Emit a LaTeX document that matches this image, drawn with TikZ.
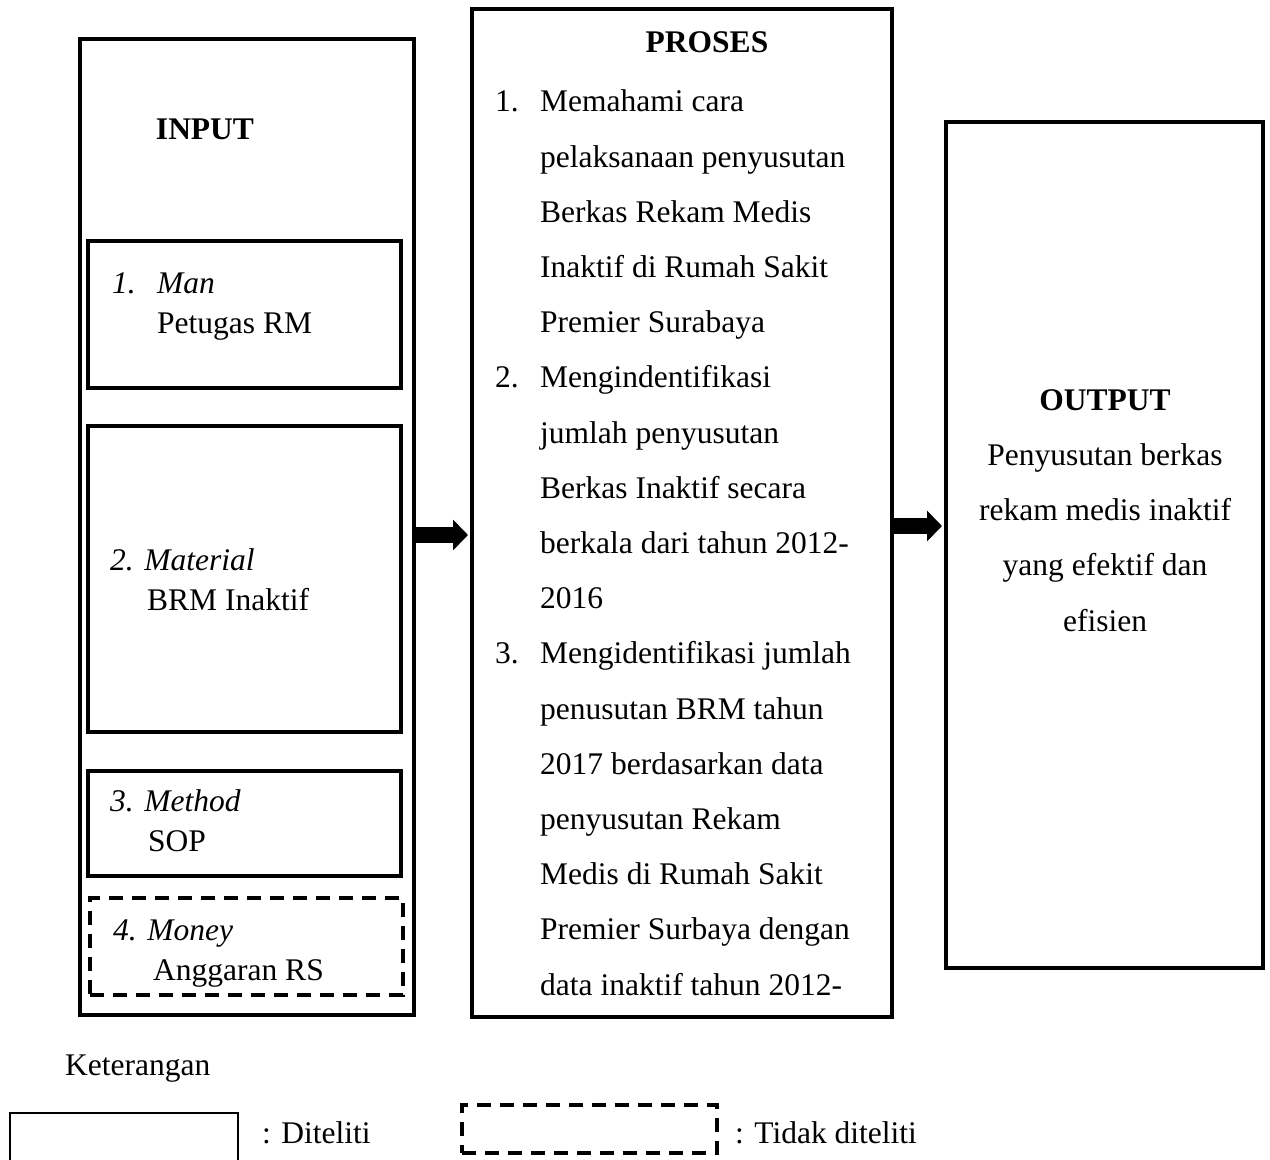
\documentclass[tikz,border=0pt]{standalone}
\usepackage{fontspec}
\setmainfont{Liberation Serif}
\usetikzlibrary{arrows.meta}

\begin{document}
\begin{tikzpicture}[x=1pt,y=-1pt,
  box/.style={draw,line width=4pt,inner sep=0pt},
  nobox/.style={draw,line width=4pt,dash pattern=on 14pt off 9pt,inner sep=0pt},
  txt/.style={inner sep=0pt,align=left,font=\fontsize{31.5}{40}\selectfont},
  list/.style={inner sep=0pt,align=left,font=\fontsize{31.5}{55.2}\selectfont},
  head/.style={inner sep=0pt,font=\fontsize{31.5}{55.2}\selectfont\bfseries},
  fat/.style={line width=16pt,-{Triangle[length=15pt,width=30pt]}}]
\clip (0,0) rectangle (1270,1160);

% big boxes
\node[box,minimum width=334pt,minimum height=976pt] (input) at (247,527) {};
\node[box,minimum width=420pt,minimum height=1008pt] (proses) at (682,513) {};
\node[box,minimum width=317pt,minimum height=846pt] (output) at (1104.5,545) {};

% input parts
\node[box,minimum width=313pt,minimum height=147pt] (man) at (244.5,314.5) {};
\node[box,minimum width=313pt,minimum height=306pt] (material) at (244.5,579) {};
\node[box,minimum width=313pt,minimum height=105pt] (method) at (244.5,823.5) {};
\node[nobox,minimum width=313pt,minimum height=97pt] (money) at (246.5,946.5) {};

% (multi-line texts are placed by their last baseline)
\node[head,anchor=base] (intitle) at (205,139) {INPUT};
\node[txt,anchor=base west] (mantxt) at (112,333)
  {\makebox[45pt][l]{\itshape 1.}\textit{Man}\\\hspace*{45pt}Petugas RM};
\node[txt,anchor=base west] (mattxt) at (110,610)
  {\textit{2. Material}\\\hspace*{37pt}BRM Inaktif};
\node[txt,anchor=base west] (mettxt) at (110,851)
  {\textit{3. Method}\\\hspace*{38pt}SOP};
\node[txt,anchor=base west] (montxt) at (113,980)
  {\textit{4. Money}\\\hspace*{40pt}Anggaran RS};

% proses
\node[head,anchor=base] (prtitle) at (707,52) {PROSES};
\node[list,anchor=base west] (prtxt) at (495,995)
  {\makebox[45pt][l]{1.}Memahami cara\\
   \hspace*{45pt}pelaksanaan penyusutan\\
   \hspace*{45pt}Berkas Rekam Medis\\
   \hspace*{45pt}Inaktif di Rumah Sakit\\
   \hspace*{45pt}Premier Surabaya\\
   \makebox[45pt][l]{2.}Mengindentifikasi\\
   \hspace*{45pt}jumlah penyusutan\\
   \hspace*{45pt}Berkas Inaktif secara\\
   \hspace*{45pt}berkala dari tahun 2012-\\
   \hspace*{45pt}2016\\
   \makebox[45pt][l]{3.}Mengidentifikasi jumlah\\
   \hspace*{45pt}penusutan BRM tahun\\
   \hspace*{45pt}2017 berdasarkan data\\
   \hspace*{45pt}penyusutan Rekam\\
   \hspace*{45pt}Medis di Rumah Sakit\\
   \hspace*{45pt}Premier Surbaya dengan\\
   \hspace*{45pt}data inaktif tahun 2012-};

% output
\node[head,anchor=base] (outtitle) at (1105,410) {OUTPUT};
\node[list,align=center,anchor=base] (outtxt) at (1105,631)
  {Penyusutan berkas\\rekam medis inaktif\\yang efektif dan\\efisien};

\draw[fat,shorten >=2pt] (input.east |- 0,535) -- (proses.west |- 0,535);
\draw[fat,shorten >=2pt] (proses.east |- 0,526) -- (output.west |- 0,526);

% keterangan
\node[txt,anchor=base west] (ket) at (65,1075) {Keterangan};
\node[draw,line width=2pt,minimum width=228pt,minimum height=80pt,inner sep=0pt] (yes) at (124,1153) {};
\node[txt,anchor=base west] (yestxt) at (262,1143) {: Diteliti};
\node[nobox,minimum width=255pt,minimum height=48pt] (no) at (589.5,1129) {};
\node[txt,anchor=base west] (notxt) at (735,1143) {: Tidak diteliti};
\end{tikzpicture}
\end{document}
